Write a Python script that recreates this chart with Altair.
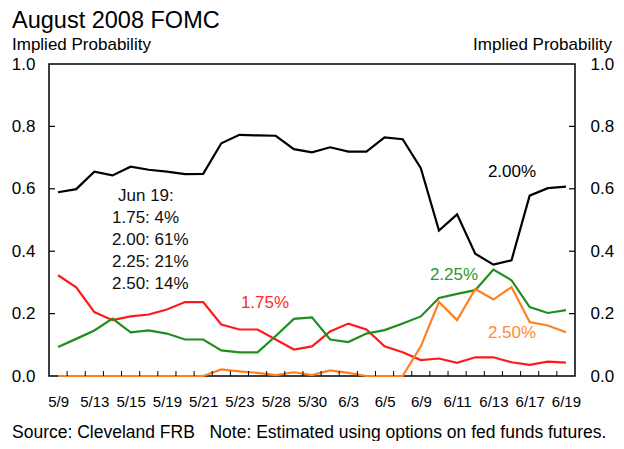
import altair as alt
import pandas as pd

# ---- data ----
dates = ["5/9", "5/12", "5/13", "5/14", "5/15", "5/16", "5/19", "5/20", "5/21", "5/22",
         "5/23", "5/27", "5/28", "5/29", "5/30", "6/2", "6/3", "6/4", "6/5", "6/6",
         "6/9", "6/10", "6/11", "6/12", "6/13", "6/16", "6/17", "6/18", "6/19"]

p175 = [0.323, 0.284, 0.205, 0.179, 0.191, 0.197, 0.213, 0.237, 0.237, 0.165,
        0.149, 0.149, 0.117, 0.085, 0.095, 0.143, 0.168, 0.149, 0.095, 0.076,
        0.051, 0.056, 0.042, 0.060, 0.060, 0.044, 0.036, 0.046, 0.043]
p200 = [0.589, 0.599, 0.655, 0.643, 0.671, 0.661, 0.655, 0.647, 0.648, 0.746,
        0.773, 0.771, 0.770, 0.727, 0.717, 0.733, 0.719, 0.719, 0.765, 0.759,
        0.666, 0.466, 0.518, 0.392, 0.357, 0.371, 0.578, 0.602, 0.607]
p225 = [0.093, 0.119, 0.146, 0.184, 0.140, 0.146, 0.136, 0.117, 0.117, 0.082,
        0.076, 0.076, 0.128, 0.183, 0.188, 0.117, 0.109, 0.136, 0.147, 0.168,
        0.191, 0.250, 0.263, 0.275, 0.341, 0.307, 0.221, 0.202, 0.211]
p250 = [0.0, 0.0, 0.0, 0.0, 0.0, 0.0, 0.0, 0.0, 0.0, 0.021,
        0.015, 0.010, 0.003, 0.012, 0.003, 0.018, 0.010, 0.0, 0.0, 0.0,
        0.095, 0.237, 0.179, 0.279, 0.245, 0.285, 0.173, 0.162, 0.140]

series_names = ["1.75%", "2.00%", "2.25%", "2.50%"]
series_values = [p175, p200, p225, p250]
series_colors = ["#ff1a1a", "#000000", "#1e8f1e", "#ff8020"]
label_colors = ["#ff2a2a", "#000000", "#2a982a", "#ff8c30"]

y_ticks = [0.0, 0.2, 0.4, 0.6, 0.8, 1.0]
note_lines = ["Jun 19:", "1.75: 4%", "2.00: 61%", "2.25: 21%", "2.50: 14%"]

title_text = "August 2008 FOMC"
axis_title = "Implied Probability"
source_text = "Source: Cleveland FRB\u00a0\u00a0\u00a0Note: Estimated using options on fed funds futures."

FONT = "Liberation Sans"
W, H = 526, 312

rows = []
for name, vals in zip(series_names, series_values):
    for i, v in enumerate(vals):
        rows.append({"idx": i, "date": dates[i], "series": name, "value": v})
df = pd.DataFrame(rows)

label_expr = "[" + ",".join("'" + d + "'" for d in dates) + "][datum.value]"

x_enc = alt.X(
    "idx:Q",
    scale=alt.Scale(domain=[-0.5, len(dates) - 0.5], nice=False, zero=False),
    axis=alt.Axis(values=list(range(0, len(dates), 2)), labelExpr=label_expr,
                  ticks=False, domain=False, grid=False, title=None,
                  labelFontSize=15, labelPadding=18, labelFont=FONT,
                  labelColor="#000", labelFlush=False, labelOverlap=False),
)

y_scale = alt.Scale(domain=[0, 1], nice=False, zero=True)


def y_axis(orient, pad):
    return alt.Axis(orient=orient, values=y_ticks, format=".1f", ticks=False,
                    domain=False, grid=False, title=None, labelFontSize=17,
                    labelPadding=pad, labelFont=FONT, labelColor="#000")


lines = alt.Chart(df).mark_line(strokeWidth=2.2).encode(
    x=x_enc,
    y=alt.Y("value:Q", scale=y_scale, axis=y_axis("left", 14)),
    color=alt.Color("series:N", scale=alt.Scale(domain=series_names, range=series_colors),
                    legend=None),
    order=alt.Order("idx:Q"),
)

df_xt = pd.DataFrame({"idx": [i + 0.5 for i in range(len(dates) - 1)]})
xticks = alt.Chart(df_xt).mark_rule(color="#000", strokeWidth=1).encode(
    x=x_enc, y=alt.value(H), y2=alt.value(H - 5)
)

df_yt = pd.DataFrame({"value": y_ticks[1:-1]})
yticks_left = alt.Chart(df_yt).mark_rule(color="#000", strokeWidth=1.2).encode(
    y=alt.Y("value:Q", scale=y_scale, axis=None), x=alt.value(0), x2=alt.value(6)
)
yticks_right = alt.Chart(df_yt).mark_rule(color="#000", strokeWidth=1.2).encode(
    y=alt.Y("value:Q", scale=y_scale, axis=y_axis("right", 15)),
    x=alt.value(W - 6), x2=alt.value(W)
)


def txt(s, x, y, size, color="#000", align="left", baseline="alphabetic"):
    return alt.Chart(pd.DataFrame({"t": [s]})).mark_text(
        align=align, baseline=baseline, fontSize=size, font=FONT, color=color
    ).encode(x=alt.value(x), y=alt.value(y), text="t:N")


texts = [
    txt(title_text, -37, -36, 23.5),
    txt(axis_title, -37, -14, 17),
    txt(axis_title, 563, -14, 17, align="right"),
    txt(source_text, -37, 374, 17.5),
    txt(series_names[1], 463, 108, 17, label_colors[1], "center", "middle"),
    txt(series_names[2], 405, 211, 17, label_colors[2], "center", "middle"),
    txt(series_names[3], 463, 269, 17, label_colors[3], "center", "middle"),
    txt(series_names[0], 216, 239, 17, label_colors[0], "center", "middle"),
    txt(note_lines[0], 69, 132, 17, "#111", "left", "middle"),
]
for k, line in enumerate(note_lines[1:]):
    texts.append(txt(line, 63, 154 + 22 * k, 17, "#111", "left", "middle"))

chart = alt.layer(lines, xticks, yticks_left, yticks_right, *texts).resolve_axis(
    y="independent"
).properties(
    width=W, height=H,
    autosize=alt.AutoSizeParams(type="none"),
    padding={"left": 41, "top": 56, "right": 41, "bottom": 65},
    background="white",
).configure_view(stroke="#000", strokeWidth=1.5)

chart.save("out.html", embed_options={"renderer": "svg", "actions": False})
